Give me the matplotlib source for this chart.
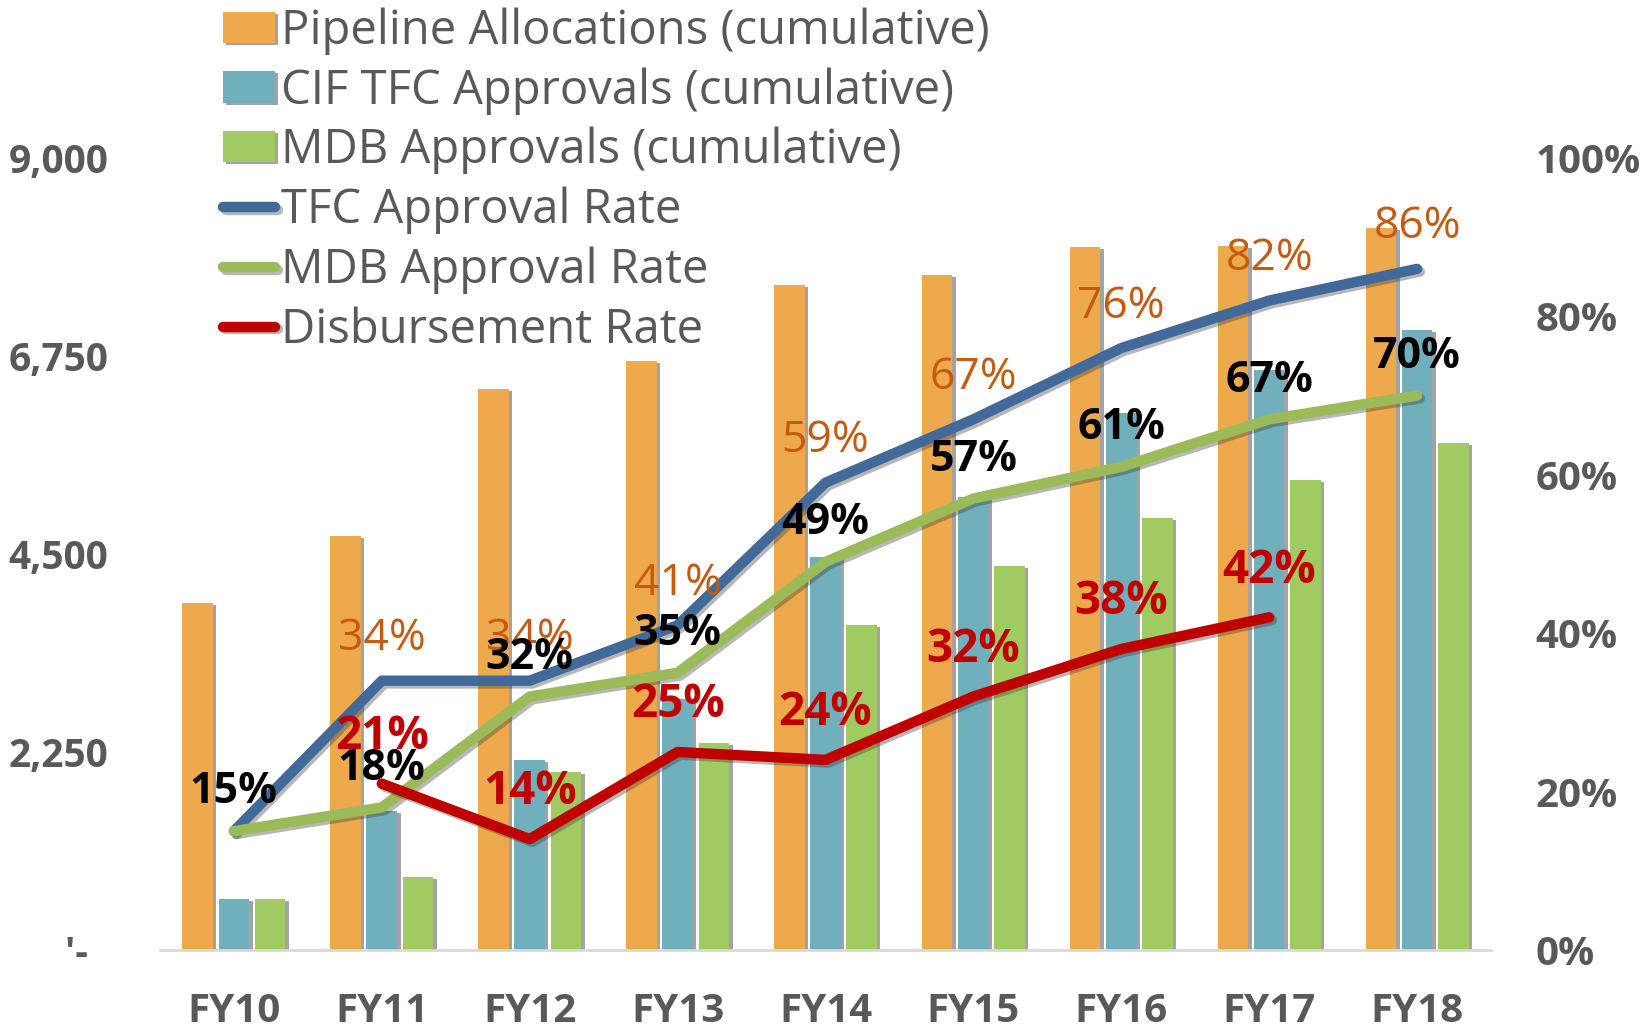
import matplotlib
matplotlib.use("Agg")
import matplotlib.pyplot as plt
import matplotlib.patheffects as pe
import numpy as np

plt.rcParams["font.family"] = ["Open Sans", "DejaVu Sans"]

years = ["FY10", "FY11", "FY12", "FY13", "FY14", "FY15", "FY16", "FY17", "FY18"]

# cumulative amounts (left axis)
pipeline = [3940, 4700, 6375, 6695, 7555, 7670, 7990, 8000, 8205]
tfc_approvals = [580, 1580, 2160, 2850, 4465, 5150, 6100, 6590, 7045]
mdb_approvals = [580, 830, 2020, 2350, 3695, 4365, 4905, 5340, 5760]

# rates in % (right axis)
tfc_rate = [15, 34, 34, 41, 59, 67, 76, 82, 86]
mdb_rate = [15, 18, 32, 35, 49, 57, 61, 67, 70]
disb_rate = [np.nan, 21, 14, 25, 24, 32, 38, 42, np.nan]

left_ticks = [0, 2250, 4500, 6750, 9000]
left_labels = ["'-  ", "2,250", "4,500", "6,750", "9,000"]
right_ticks = [0, 20, 40, 60, 80, 100]

GRAY = "#595959"
ORANGE = "#EDA94C"
TEAL = "#70B0BD"
GREEN = "#A0CB62"
BLUE_LINE = "#41699A"
GREEN_LINE = "#9BBB59"
RED = "#C00000"
ORANGE_TXT = "#C55A11"

fig = plt.figure(figsize=(16.47, 10.32), dpi=100)
ax = fig.add_axes([0.0971, 0.0795, 0.8082, 0.7674])
ax2 = ax.twinx()

x = np.arange(len(years))
w = 0.207
off = 0.245

bar_fx = [pe.SimplePatchShadow(offset=(2.5, -1.5), shadow_rgbFace="#333333", alpha=0.45), pe.Normal()]
b1 = ax.bar(x - off, pipeline, w, color=ORANGE, label="Pipeline Allocations (cumulative)")
b2 = ax.bar(x, tfc_approvals, w, color=TEAL, label="CIF TFC Approvals (cumulative)")
b3 = ax.bar(x + off, mdb_approvals, w, color=GREEN, label="MDB Approvals (cumulative)")
for bars in (b1, b2, b3):
    for p in bars:
        p.set_path_effects(bar_fx)

line_fx = [pe.SimpleLineShadow(offset=(2, -2), shadow_color="#333333", alpha=0.35), pe.Normal()]
l1, = ax2.plot(x, tfc_rate, color=BLUE_LINE, lw=7.5, solid_capstyle="round",
               solid_joinstyle="round", label="TFC Approval Rate", path_effects=line_fx)
l2, = ax2.plot(x, mdb_rate, color=GREEN_LINE, lw=7.5, solid_capstyle="round",
               solid_joinstyle="round", label="MDB Approval Rate", path_effects=line_fx)
l3, = ax2.plot(x, disb_rate, color=RED, lw=7.5, solid_capstyle="round",
               solid_joinstyle="round", label="Disbursement Rate", path_effects=line_fx)

# data labels
for i, v in enumerate(tfc_rate):
    if i == 0:
        continue
    ax2.annotate(f"{v}%", (i, v), xytext=(0, 22), textcoords="offset points",
                 ha="center", va="baseline", fontsize=32, color=ORANGE_TXT, zorder=5)
for i, v in enumerate(mdb_rate):
    ax2.annotate(f"{v}%", (i, v), xytext=(0, 20), textcoords="offset points",
                 ha="center", va="baseline", fontsize=31, fontweight="bold",
                 color="black", zorder=6)
for i, v in enumerate(disb_rate):
    if np.isnan(v):
        continue
    ax2.annotate(f"{v}%", (i, v), xytext=(0, 25), textcoords="offset points",
                 ha="center", va="baseline", fontsize=33, fontweight="bold",
                 color=RED, zorder=7)

ax.set_xlim(-0.5, len(years) - 0.5)
ax.set_ylim(0, 9000)
ax2.set_ylim(0, 100)

ax.set_xticks(x)
ax.set_xticklabels(years, fontsize=29, fontweight="bold", color=GRAY)
ax.set_yticks(left_ticks)
ax.set_yticklabels(left_labels, fontsize=28, fontweight="bold", color=GRAY)
ax2.set_yticks(right_ticks)
ax2.set_yticklabels([f"{t}%" for t in right_ticks], fontsize=29, fontweight="bold", color=GRAY)

ax.tick_params(axis="x", length=0, pad=30)
ax.tick_params(axis="y", length=0, pad=37)
ax2.tick_params(axis="y", length=0, pad=32)

for a in (ax, ax2):
    for s in ("top", "left", "right"):
        a.spines[s].set_visible(False)
ax2.spines["bottom"].set_visible(False)
ax.spines["bottom"].set_color("#D9D9D9")
ax.spines["bottom"].set_linewidth(2)

handles = [b1, b2, b3, l1, l2, l3]
leg = fig.legend(handles=handles, labels=[h.get_label() for h in handles],
                 loc="upper left", bbox_to_anchor=(0.1354, 0.993), frameon=False,
                 fontsize=34, handlelength=1.1, handleheight=0.64, handletextpad=0.13,
                 labelspacing=0.26, borderpad=0, borderaxespad=0)
for t in leg.get_texts():
    t.set_color(GRAY)

fig.savefig("out.png", dpi=100)
